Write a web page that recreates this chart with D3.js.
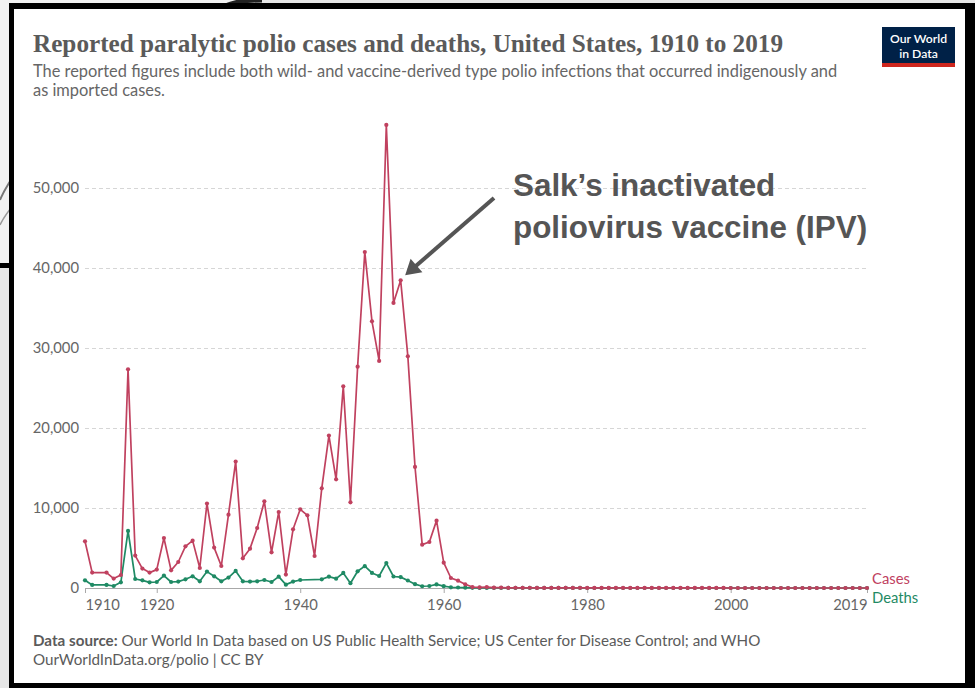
<!DOCTYPE html>
<html>
<head>
<meta charset="utf-8">
<script src="https://cdn.jsdelivr.net/npm/d3@7"></script>
<style>
  html, body { margin: 0; padding: 0; background: #e7e7e7; }
  svg { display: block; }
  text { font-family: Lato, "Noto Sans", sans-serif; }
</style>
</head>
<body>
<svg id="chart" width="975" height="688"></svg>
<script>
// ---------------- data ----------------
const caseYears = [1910,1911,1913,1914,1915,1916,1917,1918,1919,1920,1921,1922,1923,1924,1925,1926,1927,1928,1929,1930,
  1931,1932,1933,1934,1935,1936,1937,1938,1939,1940,1941,1942,1943,1944,1945,1946,1947,1948,1949,1950,
  1951,1952,1953,1954,1955,1956,1957,1958,1959,1960,1961,1962,1963,1964,1965,1966,1967,1968,1969,1970,
  1971,1972,1973,1974,1975,1976,1977,1978,1979,1980,1981,1982,1983,1984,1985,1986,1987,1988,1989,1990,
  1991,1992,1993,1994,1995,1996,1997,1998,1999,2000,2001,2002,2003,2004,2005,2006,2007,2008,2009,2010,
  2011,2012,2013,2014,2015,2016,2017,2018,2019];
const caseValues = [5840,1925,1925,1175,1625,27340,4050,2425,1925,2300,6250,2210,3250,5210,5920,2500,10550,5050,2750,9170,
  15800,3710,4920,7500,10840,4460,9500,1675,7340,9840,9090,4000,12460,19050,13590,25210,10710,27670,42000,33340,
  28380,57880,35630,38460,28960,15130,5420,5750,8420,3170,1250,920,460,120,70,110,40,50,20,30,
  20,30,10,10,10,10,20,10,20,10,10,10,10,10,10,10,10,10,10,10,
  10,10,5,5,5,5,5,5,5,0,0,0,0,0,1,0,0,0,0,0,
  0,0,0,0,0,0,0,0,0];

const deathYears = [1910,1911,1913,1914,1915,1916,1917,1918,1919,1920,1921,1922,1923,1924,1925,1926,1927,1928,1929,1930,
  1931,1932,1933,1934,1935,1936,1937,1938,1939,1940,1943,1944,1945,1946,1947,1948,1949,1950,
  1951,1952,1953,1954,1955,1956,1957,1958,1959,1960,1961,1962,1963,1964,1965,1966,1967,1968,1969,1970,
  1971,1972,1973,1974,1975,1976,1977,1978,1979,1980,1981,1982,1983,1984,1985,1986,1987,1988,1989,1990,
  1991,1992,1993,1994,1995,1996,1997,1998,1999,2000,2001,2002,2003,2004,2005,2006,2007,2008,2009,2010,
  2011,2012,2013,2014,2015,2016,2017,2018,2019];
const deathValues = [960,380,380,250,710,7130,1125,960,710,750,1550,750,800,1090,1460,840,2050,1460,840,1300,
  2130,840,800,840,1000,750,1420,420,800,1000,1090,1420,1170,1880,600,2090,2730,1880,
  1500,3110,1440,1360,940,480,220,250,450,230,90,60,40,20,15,10,10,10,5,5,
  5,5,5,5,5,5,5,5,5,0,0,0,0,0,0,0,0,0,0,0,
  0,0,0,0,0,0,0,0,0,0,0,0,0,0,0,0,0,0,0,0,
  0,0,0,0,0,0,0,0,0];

const yTickValues = [0,10000,20000,30000,40000,50000];
const xTickValues = [1910,1920,1940,1960,1980,2000,2019];
const seriesNames = ["Cases","Deaths"];

const titleText = "Reported paralytic polio cases and deaths, United States, 1910 to 2019";
const subtitleLines = ["The reported figures include both wild- and vaccine-derived type polio infections that occurred indigenously and",
  "as imported cases."];
const annotationLines = ["Salk\u2019s inactivated", "poliovirus vaccine (IPV)"];
const sourceLabel = "Data source:";
const sourceText = " Our World In Data based on US Public Health Service; US Center for Disease Control; and WHO";
const footerLine2 = "OurWorldInData.org/polio | CC BY";
const logoLines = ["Our World", "in Data"];

// ---------------- drawing ----------------
const svg = d3.select("#chart");
const colCases = "#c0415f", colDeaths = "#1f8a64";
const textGrey = "#5b5b5b";

// backdrop (screenshot surroundings)
svg.append("rect").attr("width", 975).attr("height", 688).attr("fill", "#e7e7e7");
const photo = svg.append("g");
photo.append("rect").attr("x", 0).attr("y", 0).attr("width", 262).attr("height", 265).attr("fill", "#f2f2f2");
photo.append("path").attr("d", "M0,200 C4,190 8,185 12,178").attr("stroke", "#777").attr("stroke-width", 2).attr("fill", "none");
photo.append("path").attr("d", "M0,225 C5,215 9,210 14,205").attr("stroke", "#999").attr("stroke-width", 1.5).attr("fill", "none");
photo.append("path").attr("d", "M225,6 C235,2 245,0 262,0").attr("stroke", "#222").attr("stroke-width", 5).attr("fill", "none");
photo.append("rect").attr("x", 0).attr("y", 263).attr("width", 14).attr("height", 5).attr("fill", "#000");

// frame
svg.append("rect").attr("x", 9).attr("y", 3).attr("width", 966).attr("height", 685).attr("fill", "#000");
svg.append("rect").attr("x", 14).attr("y", 9).attr("width", 951).attr("height", 674).attr("fill", "#fff");

// title
svg.append("text").attr("x", 33).attr("y", 52)
  .style("font-family", "'Liberation Serif', 'DejaVu Serif', serif")
  .attr("font-size", 26).attr("font-weight", 700).attr("fill", "#5a5a5a")
  .attr("textLength", 750).attr("lengthAdjust", "spacingAndGlyphs")
  .text(titleText);

// subtitle
svg.selectAll(".sub").data(subtitleLines).join("text").attr("class", "sub")
  .attr("x", 33).attr("y", (d, i) => 77 + i * 19)
  .attr("font-size", 16.4).attr("fill", "#666")
  .text(d => d);

// logo
const logo = svg.append("g");
logo.append("rect").attr("x", 882).attr("y", 27).attr("width", 73).attr("height", 37).attr("fill", "#002147");
logo.append("rect").attr("x", 882).attr("y", 63).attr("width", 73).attr("height", 4).attr("fill", "#ce261e");
logo.selectAll("text").data(logoLines).join("text")
  .attr("x", 918.5).attr("y", (d, i) => 43.4 + i * 14.8)
  .attr("text-anchor", "middle").attr("font-size", 12.2).attr("font-weight", 600).attr("fill", "#fff")
  .text(d => d);

// scales
const x = d3.scaleLinear().domain([1910, 2019]).range([85, 867]);
const y = d3.scaleLinear().domain([0, 50000]).range([588, 188]);

// y grid + labels
const yAxis = svg.append("g").attr("transform", "translate(85,0)")
  .call(d3.axisLeft(y).tickValues(yTickValues).tickSize(-(867 - 85)).tickPadding(6).tickFormat(d3.format(",")));
yAxis.select(".domain").remove();
yAxis.selectAll(".tick line").attr("stroke", "#d6d6d6").attr("stroke-dasharray", "4,3")
  .filter(d => d === 0).remove();
yAxis.selectAll(".tick text").attr("font-size", 14.8).attr("fill", "#666").attr("font-family", "Lato");

// x axis
const xAxis = svg.append("g").attr("transform", "translate(0,588)")
  .call(d3.axisBottom(x).tickValues(xTickValues).tickSize(5).tickSizeOuter(0).tickPadding(6).tickFormat(d3.format("d")));
xAxis.select(".domain").attr("stroke", "#a8a8a8");
xAxis.selectAll(".tick line").attr("stroke", "#a8a8a8");
xAxis.selectAll(".tick text").attr("font-size", 14.8).attr("fill", "#666").attr("font-family", "Lato")
  .attr("text-anchor", d => d === 1910 ? "start" : d === 2019 ? "end" : "middle");

// series
const series = [
  { name: seriesNames[0], years: caseYears, values: caseValues, color: colCases },
  { name: seriesNames[1], years: deathYears, values: deathValues, color: colDeaths }
];
const line = d3.line().x(d => x(d[0])).y(d => y(d[1]));
// draw deaths first, cases on top (cases line covers the zero tail)
[series[1], series[0]].forEach(s => {
  const pts = s.years.map((yr, i) => [yr, s.values[i]]);
  const g = svg.append("g");
  g.append("path").datum(pts).attr("d", line).attr("fill", "none")
    .attr("stroke", s.color).attr("stroke-width", 1.7).attr("stroke-linejoin", "round");
  g.selectAll("circle").data(pts).join("circle")
    .attr("cx", d => x(d[0])).attr("cy", d => y(d[1])).attr("r", 2.1).attr("fill", s.color);
});

// legend labels at line ends
svg.append("text").attr("x", 872).attr("y", 584).attr("font-size", 14.8).attr("fill", colCases).text(seriesNames[0]);
svg.append("text").attr("x", 872).attr("y", 603).attr("font-size", 14.8).attr("fill", colDeaths).text(seriesNames[1]);

// annotation
svg.selectAll(".ann").data(annotationLines).join("text").attr("class", "ann")
  .attr("x", 513).attr("y", (d, i) => 196 + i * 42)
  .style("font-family", "'Liberation Sans', Arial, sans-serif")
  .attr("font-size", 31.4).attr("font-weight", 700).attr("fill", "#555")
  .text(d => d);

const tip = [x(1954) + 4.5, y(38460) - 5];
const tail = [494, 198];
const ang = Math.atan2(tip[1] - tail[1], tip[0] - tail[0]);
const headLen = 15, headHalf = 9;
const base = [tip[0] - headLen * Math.cos(ang), tip[1] - headLen * Math.sin(ang)];
svg.append("line").attr("x1", tail[0]).attr("y1", tail[1]).attr("x2", base[0] + 2 * Math.cos(ang)).attr("y2", base[1] + 2 * Math.sin(ang))
  .attr("stroke", "#555").attr("stroke-width", 4);
svg.append("polygon")
  .attr("points", [
    tip,
    [base[0] + headHalf * Math.sin(ang), base[1] - headHalf * Math.cos(ang)],
    [base[0] - headHalf * Math.sin(ang), base[1] + headHalf * Math.cos(ang)]
  ].map(p => p.join(",")).join(" "))
  .attr("fill", "#555");

// footer
const f1 = svg.append("text").attr("x", 33).attr("y", 646).attr("font-size", 15.2).attr("fill", textGrey);
f1.append("tspan").attr("font-weight", 700).text(sourceLabel);
f1.append("tspan").text(sourceText);
svg.append("text").attr("x", 33).attr("y", 665).attr("font-size", 15.2).attr("fill", textGrey).text(footerLine2);
</script>
</body>
</html>
